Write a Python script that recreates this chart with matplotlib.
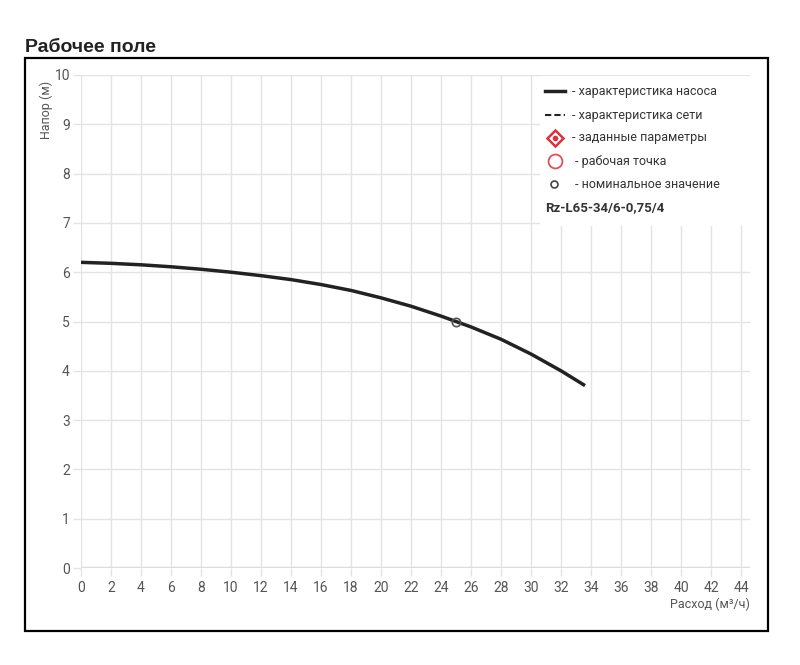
import matplotlib
matplotlib.use("Agg")
import matplotlib.pyplot as plt
from matplotlib.patches import Rectangle

# ---- data ----
flow = [0, 2, 4, 6, 8, 10, 12, 14, 16, 18, 20, 22, 24, 25, 26, 28, 30, 32, 33.6]
head = [6.2, 6.18, 6.15, 6.11, 6.06, 6.0, 5.93, 5.85, 5.75, 5.63, 5.48, 5.31, 5.11,
        5.0, 4.89, 4.64, 4.34, 4.0, 3.7]
nominal_q = [25]
nominal_h = [5.0]
x_ticks = list(range(0, 45, 2))
y_ticks = list(range(0, 11))
title = "Рабочее поле"
x_label = "Расход (м³/ч)"
y_label = "Напор (м)"
legend_labels = ["- характеристика насоса", "- характеристика сети",
                 "- заданные параметры", "- рабочая точка", "- номинальное значение"]
model = "Rz-L65-34/6-0,75/4"

plt.rcParams['font.family'] = ['Roboto', 'DejaVu Sans']
W, H = 800, 665
fig = plt.figure(figsize=(W / 100, H / 100), dpi=100)

def px(x0, y0, x1, y1):
    return [x0 / W, 1 - y1 / H, (x1 - x0) / W, (y1 - y0) / H]

ax = fig.add_axes(px(81, 75, 750, 568))
ax.set_xlim(0, 44.6)
ax.set_ylim(0, 10)
ax.set_xticks(x_ticks)
ax.set_yticks(y_ticks)
ax.grid(True, color='#e3e3e3', lw=1)
ax.set_axisbelow(True)
for s in ax.spines.values():
    s.set_visible(False)
ax.axhline(0, color='#dcdcdc', lw=2.5, zorder=1)
ax.tick_params(axis='both', colors='#e3e3e3', labelcolor='#555555',
               labelsize=10, length=6, width=1)
ax.tick_params(axis='x', pad=3)
ax.tick_params(axis='y', pad=2)

ax.plot(flow, head, color='#222222', lw=2.5, solid_capstyle='butt',
        solid_joinstyle='round', zorder=3)
ax.plot(nominal_q, nominal_h, 'o', mfc='none', mec='#555555', ms=6, mew=1.2, zorder=4)

# overlay in pixel coordinates
ov = fig.add_axes([0, 0, 1, 1], zorder=5)
ov.set_xlim(0, W)
ov.set_ylim(H, 0)
ov.axis('off')
ov.patch.set_alpha(0)

ov.text(25, 47, title, fontsize=14, fontweight='bold', color='#222222',
        va='center', ha='left', family=['Liberation Sans', 'DejaVu Sans'])
ov.add_patch(Rectangle((25, 58), 743, 573, fill=False, ec='black', lw=1.6))

ov.text(46, 110, y_label, rotation=90, fontsize=9, color='#555555',
        ha='center', va='center')
ov.text(750, 604, x_label, fontsize=9, color='#555555', ha='right', va='center')

# legend box
ov.add_patch(Rectangle((540, 76), 211, 150, fc='white', ec='none'))
ys = [91, 115, 138, 161, 184]
ov.plot([545, 565], [ys[0], ys[0]], color='#222222', lw=2.5)
ov.plot([545, 565], [ys[1], ys[1]], color='#222222', lw=1.5, ls=(0, (3, 1.5)))
ov.plot([555], [ys[2]], marker='D', ms=8, mfc='white', mec='#e0303a', mew=1.8)
ov.plot([555], [ys[2]], marker='o', ms=3, color='#e0303a')
ov.plot([555], [ys[3]], marker='o', ms=10, mfc='white', mec='#e0505a', mew=1.3)
ov.plot([554], [ys[4]], marker='o', ms=5, mfc='white', mec='#444444', mew=1.2)
text_x = [572, 572, 572, 575, 575]
for y, lab, tx in zip(ys, legend_labels, text_x):
    ov.text(tx, y, lab, fontsize=9, color='#333333', va='center', ha='left')
ov.text(545, 208, model, fontsize=9.5, fontweight='bold', color='#333333',
        va='center', ha='left')

fig.savefig('out.png', dpi=100, facecolor='white')
